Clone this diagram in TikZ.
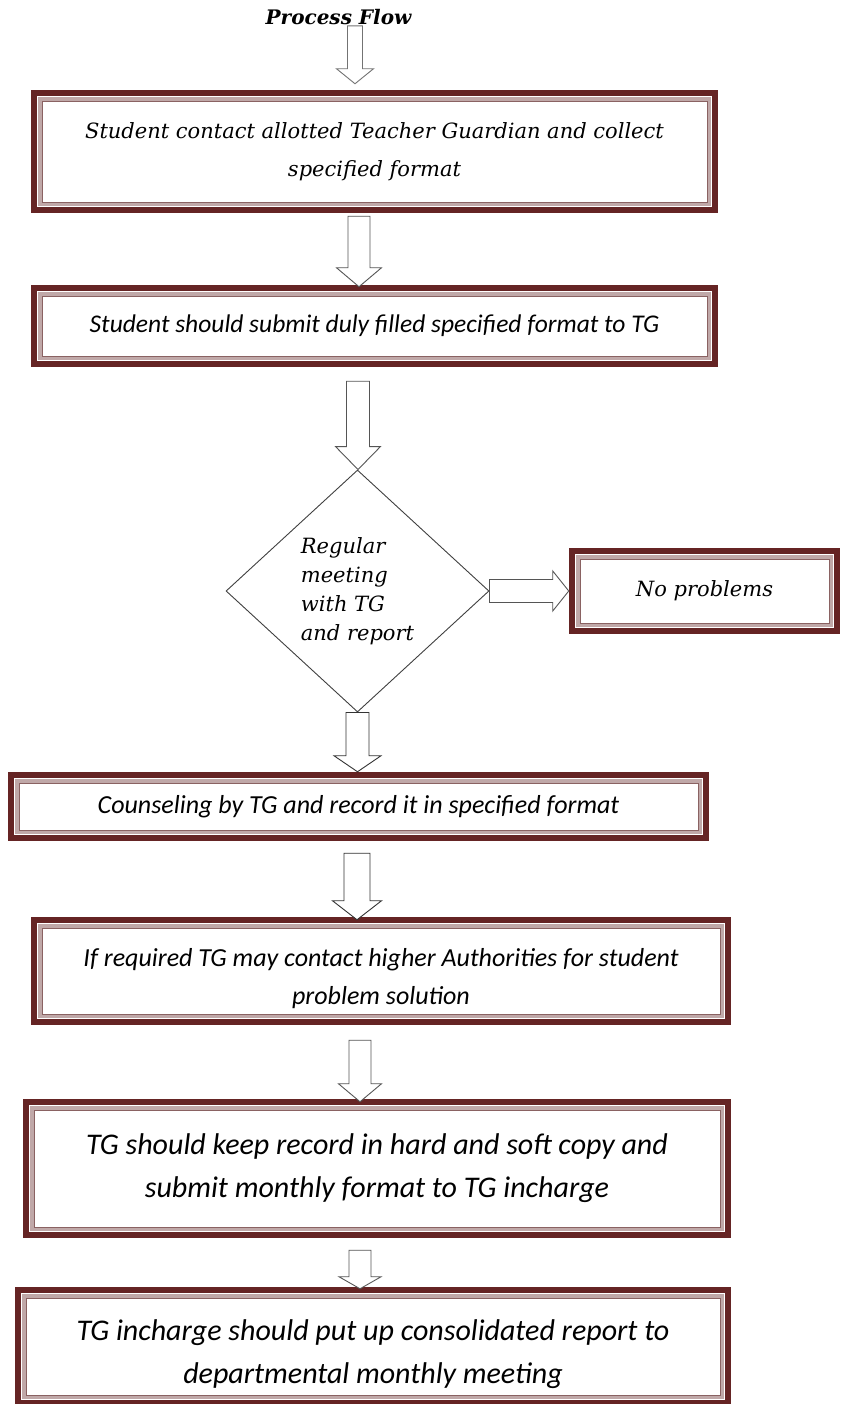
\documentclass[tikz,border=0pt]{standalone}
\usepackage{fontspec}
\setmainfont{DejaVu Serif}
\newfontfamily\calfont{Carlito}
\usepackage{tikz}
\usetikzlibrary{shapes,calc,positioning}
\definecolor{tgred}{RGB}{101,36,36}
\definecolor{tgpink}{RGB}{192,168,168}
\definecolor{tgmauve}{RGB}{138,98,98}
\definecolor{arrowgray}{RGB}{85,85,85}
\tikzstyle{tgbox} = [rectangle, draw=tgred, line width=6.5pt, fill=white, align=center, inner sep=0pt,
  path picture={
    \draw[tgpink, line width=4pt] ([shift={(6pt,-6pt)}]path picture bounding box.north west) rectangle ([shift={(-6pt,6pt)}]path picture bounding box.south east);
    \draw[tgmauve, line width=0.8pt] ([shift={(8pt,-8pt)}]path picture bounding box.north west) rectangle ([shift={(-8pt,8pt)}]path picture bounding box.south east);
  }]
\tikzstyle{decision} = [diamond, draw=black!75, line width=0.9pt, fill=white, inner sep=0pt, align=left, minimum width=263pt, minimum height=242pt]
\tikzstyle{cambria} = [font=\itshape\fontsize{21}{38}\selectfont]
\tikzstyle{calibri} = [font=\calfont\itshape\fontsize{26}{38}\selectfont]
\tikzstyle{calibribig} = [font=\calfont\itshape\fontsize{30}{43}\selectfont]
\tikzset{
  blockdown/.style n args={3}{draw=arrowgray, fill=white, line width=0.9pt, line join=miter,
    to path={let \p1=(\tikztostart), \p2=(\tikztotarget) in
      (\x1-#1,\y1) -- (\x1-#1,\y2+#3) -- (\x1-#2,\y2+#3) -- (\x1,\y2) -- (\x1+#2,\y2+#3) -- (\x1+#1,\y2+#3) -- (\x1+#1,\y1) -- cycle}},
  blockright/.style n args={3}{draw=arrowgray, fill=white, line width=0.9pt, line join=miter,
    to path={let \p1=(\tikztostart), \p2=(\tikztotarget) in
      (\x1,\y1+#1) -- (\x2-#3,\y1+#1) -- (\x2-#3,\y1+#2) -- (\x2,\y1) -- (\x2-#3,\y1-#2) -- (\x2-#3,\y1-#1) -- (\x1,\y1-#1) -- cycle}}
}

\begin{document}
\begin{tikzpicture}[x=1pt, y=-1pt]
\useasboundingbox (0,0) rectangle (840,1404);

% Title
\node[font=\bfseries\itshape\fontsize{20}{22}\selectfont, inner sep=1pt] (title) at (338.5,17) {Process Flow};

% Steps
\node[tgbox, cambria, minimum width=681pt, minimum height=117pt] (contact) at (374.5,151.5) {
Student contact allotted Teacher Guardian and collect\\
specified format
};
\node[tgbox, calibri, font=\calfont\itshape\fontsize{25.5}{38}\selectfont, minimum width=681pt, minimum height=76pt] (submit) at (374.5,326) {Student should submit duly filled specified format to TG};

% Decision
\node[decision, font=\itshape\fontsize{21}{29}\selectfont] (meeting) at (357.5,591) {
Regular\\
meeting\\
with TG\\
and report
};
\node[tgbox, cambria, minimum width=265pt, minimum height=80pt] (noprob) at (704.5,591) {No problems};

\node[tgbox, calibri, minimum width=695pt, minimum height=63pt] (counsel) at (358.5,806.5) {Counseling by TG and record it in specified format};
\node[tgbox, calibri, minimum width=694pt, minimum height=102pt] (higher) at (381,971) {
\rule{0pt}{34pt}If required TG may contact higher Authorities for student\\
problem solution
};
\node[tgbox, calibribig, minimum width=702pt, minimum height=133pt] (record) at (377,1168.5) {
TG should keep record in hard and soft copy and\\
submit monthly format to TG incharge
};
\node[tgbox, calibribig, minimum width=710pt, minimum height=113pt] (report) at (373,1346.5) {
\rule{0pt}{36pt}TG incharge should put up consolidated report to\\
departmental monthly meeting
};

% Arrows
\draw[blockdown={7.5pt}{18.5pt}{15pt}, draw=black!55] ([xshift=16.5pt]title.south) to ([yshift=6pt]contact.north);
\draw[blockdown={11pt}{22.5pt}{19pt}] ([xshift=-15.5pt,yshift=-3pt]contact.south) to ([yshift=-2pt]submit.north);
\draw[blockdown={11.5pt}{22.5pt}{23pt}] ([xshift=-16.5pt,yshift=-14pt]submit.south) to (meeting.north);
\draw[blockright={11.5pt}{20pt}{16pt}] (meeting.east) to (noprob.west);
\draw[blockdown={11.5pt}{23.5pt}{16pt}, draw=black!80] (meeting.south) to (counsel.north);
\draw[blockdown={13pt}{24.5pt}{19pt}, draw=black!80] ([xshift=-1.5pt,yshift=-12pt]counsel.south) to ([yshift=-3pt]higher.north);
\draw[blockdown={11pt}{21.5pt}{18pt}] ([xshift=-21pt,yshift=-15pt]higher.south) to ([yshift=-3pt]record.north);
\draw[blockdown={11pt}{21pt}{12pt}] ([xshift=-17pt,yshift=-12pt]record.south) to ([yshift=-2pt]report.north);
\end{tikzpicture}
\end{document}
